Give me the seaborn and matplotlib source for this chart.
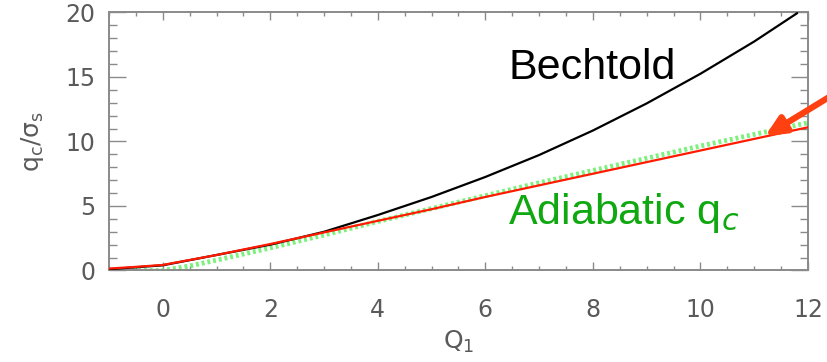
import numpy as np
import pandas as pd
import matplotlib
matplotlib.use("Agg")
import matplotlib.pyplot as plt
import seaborn as sns
from matplotlib.ticker import MultipleLocator

# ---- data ----
bechtold_x = [-1, 0, 1, 2, 3, 4, 5, 6, 7, 8, 9, 10, 11, 11.8]
bechtold_y = [0.1, 0.4, 1.2, 2.0, 3.0, 4.3, 5.7, 7.25, 8.95, 10.85, 12.95, 15.25, 17.75, 19.95]

red_x = [-1, -0.5, 0, 1, 2, 3, 4, 5, 6, 7, 8, 9, 10, 11, 12]
red_y = [0.15, 0.28, 0.43, 1.2, 2.05, 2.95, 3.85, 4.75, 5.7, 6.6, 7.5, 8.4, 9.3, 10.2, 11.1]

adiab_x = [-1, 0, 0.5, 1, 2, 3, 4, 5, 6, 7, 8, 9, 10, 11, 12]
adiab_y = [0.0, 0.0, 0.35, 0.8, 1.75, 2.75, 3.8, 4.8, 5.8, 6.8, 7.75, 8.7, 9.65, 10.55, 11.45]

x_ticks = [0, 2, 4, 6, 8, 10, 12]
y_ticks = [0, 5, 10, 15, 20]

sns.set_style("ticks")
plt.rcParams['font.family'] = ['DejaVu Sans']
plt.rcParams['mathtext.fontset'] = 'dejavusans'

fig = plt.figure(figsize=(8.28, 3.62), dpi=100)
ax = fig.add_axes([0.1316, 0.2528, 0.8442, 0.7127])

df_b = pd.DataFrame({"x": bechtold_x, "y": bechtold_y})
df_r = pd.DataFrame({"x": red_x, "y": red_y})
df_a = pd.DataFrame({"x": adiab_x, "y": adiab_y})

sns.lineplot(data=df_a, x="x", y="y", ax=ax, color="#66ee66", lw=3.5,
             linestyle=(0, (0.6, 0.6)), alpha=0.85, zorder=2)
sns.lineplot(data=df_b, x="x", y="y", ax=ax, color="black", lw=1.6, zorder=3)
sns.lineplot(data=df_r, x="x", y="y", ax=ax, color="#ff1a00", lw=1.6, zorder=4)

ax.set_xlim(-1, 12)
ax.set_ylim(0, 20)
ax.set_xticks(x_ticks)
ax.set_yticks(y_ticks)
ax.xaxis.set_minor_locator(MultipleLocator(0.5))
ax.yaxis.set_minor_locator(MultipleLocator(1))

gray = "#8a8a8a"
for s in ax.spines.values():
    s.set_color(gray)
    s.set_linewidth(1.4)
    s.set_visible(True)

ax.tick_params(axis='both', which='both', direction='in', color=gray,
               top=True, right=True, labelcolor="#5a5a5a", labelsize=17)
ax.tick_params(axis='x', which='major', length=6, width=1.0, pad=20)
ax.tick_params(axis='x', which='minor', length=3, width=1.0)
ax.tick_params(axis='y', which='major', length=12, width=1.0, pad=10)
ax.tick_params(axis='y', which='minor', length=6, width=1.0)

ax.set_xlabel(r'$\mathrm{Q_1}$', fontsize=18, color="#5a5a5a", labelpad=5)
ax.set_ylabel(r'$\mathrm{q_c/\sigma_s}$', fontsize=18, color="#5a5a5a", labelpad=14)

ax.text(6.43, 15.7, "Bechtold", fontsize=31, color="black",
        family="Liberation Sans", ha="left", va="center")
ax.text(6.43, 4.45, r"Adiabatic q$_{\mathit{c}}$", fontsize=31, color="#10a810",
        family="Liberation Sans", ha="left", va="center")

ax.annotate("", xy=(11.2, 10.4), xycoords='data',
            xytext=(1.0, 0.73), textcoords='figure fraction',
            arrowprops=dict(arrowstyle="-|>,head_length=1.2,head_width=0.55",
                            color="#ff4010", lw=4.5, shrinkA=0, shrinkB=0),
            annotation_clip=False, zorder=6)

fig.savefig("out.png", dpi=100)
